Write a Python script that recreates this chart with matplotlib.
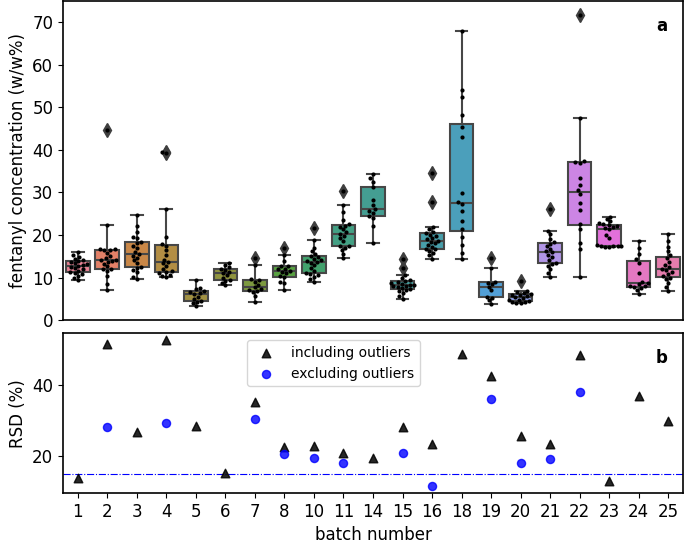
import numpy as np
import pandas as pd
import matplotlib
matplotlib.use("Agg")
import matplotlib.pyplot as plt
import seaborn as sns

# batch labels
batches = ["1", "2", "3", "4", "5", "6", "7", "8", "10", "11", "14",
           "15", "16", "18", "19", "20", "21", "22", "23", "24", "25"]

# fentanyl concentration (w/w%) of each sample, per batch
b1 = [9.4, 9.9, 10.4, 10.8, 11.1, 11.3, 11.6, 11.9, 12.2, 12.5, 12.8, 12.9, 13.1, 13.3, 13.6, 13.8, 14.1, 14.4, 14.8, 15.3, 15.9]
b2 = [7.0, 8.4, 10.4, 11.6, 12.0, 12.1, 12.6, 13.2, 13.6, 13.8, 14.0, 14.2, 14.5, 15.0, 15.8, 16.4, 16.5, 16.6, 16.8, 22.3, 44.8]
b3 = [9.6, 10.2, 11.2, 11.8, 12.3, 12.5, 13.3, 14.0, 14.6, 15.1, 15.5, 16.0, 16.9, 17.5, 18.0, 18.4, 19.2, 19.6, 20.6, 22.1, 24.6]
b4 = [10.2, 10.4, 10.6, 11.0, 11.3, 11.5, 12.0, 12.8, 13.3, 13.7, 14.2, 15.2, 16.5, 17.5, 17.9, 19.6, 26.0, 39.2, 39.6]
b5 = [3.3, 4.0, 4.3, 4.5, 5.0, 5.5, 6.1, 6.3, 6.5, 6.8, 7.2, 7.6, 9.4]
b6 = [8.2, 8.7, 9.2, 9.5, 10.0, 10.5, 11.0, 11.3, 11.8, 12.1, 12.4, 12.9, 13.4]
b7 = [4.3, 5.6, 6.5, 6.8, 7.0, 7.4, 7.7, 8.3, 9.0, 9.4, 9.6, 12.9, 14.5]
b8 = [7.1, 8.6, 9.0, 10.1, 10.3, 11.0, 11.4, 11.6, 11.9, 12.1, 12.6, 12.8, 13.8, 15.3, 16.9]
b10 = [9.0, 9.6, 10.2, 10.5, 10.8, 11.0, 11.6, 12.3, 12.9, 13.4, 13.7, 13.9, 14.1, 14.4, 14.8, 15.1, 15.5, 16.2, 17.0, 18.8, 21.6]
b11 = [14.5, 15.5, 16.4, 17.0, 17.3, 17.5, 18.5, 19.2, 19.8, 20.2, 20.6, 21.3, 21.9, 22.2, 22.6, 23.5, 25.5, 27.1, 30.4]
b14 = [18.1, 22.0, 24.0, 24.5, 25.2, 25.6, 26.1, 27.0, 28.2, 31.4, 32.5, 33.3, 34.3]
b15 = [4.9, 5.6, 6.3, 6.8, 7.0, 7.2, 7.5, 7.8, 8.0, 8.1, 8.2, 8.3, 8.5, 8.7, 8.9, 9.1, 9.3, 9.8, 10.5, 12.3, 14.4]
b16 = [14.4, 15.2, 15.8, 16.2, 16.6, 16.8, 17.2, 17.6, 18.0, 18.4, 18.7, 19.0, 19.3, 19.7, 20.1, 20.4, 20.8, 21.3, 21.9, 27.8, 34.5]
b18 = [14.4, 15.7, 17.6, 19.6, 21.4, 23.2, 25.7, 27.3, 27.8, 29.8, 43.0, 45.3, 48.1, 52.4, 54.2, 68.0]
b19 = [3.8, 4.6, 5.1, 5.5, 7.0, 7.8, 8.4, 8.8, 9.0, 12.2, 14.7]
b20 = [3.9, 4.0, 4.2, 4.3, 4.4, 4.6, 4.8, 5.1, 5.4, 5.6, 5.8, 5.9, 6.1, 6.3, 6.5, 6.8, 9.2]
b21 = [10.2, 11.0, 12.0, 12.8, 13.2, 13.4, 14.0, 14.8, 15.4, 15.9, 16.3, 16.8, 17.4, 17.9, 18.3, 19.0, 20.2, 21.0, 26.1]
b22 = [10.2, 16.6, 18.2, 21.5, 22.6, 25.9, 27.5, 29.7, 30.6, 31.7, 33.4, 37.0, 37.2, 37.4, 47.6, 71.7]
b23 = [17.1, 17.2, 17.3, 17.3, 17.4, 17.4, 17.6, 19.4, 20.1, 21.3, 21.6, 21.9, 22.2, 22.3, 22.5, 22.8, 23.2, 23.7, 24.3]
b24 = [6.1, 7.0, 7.5, 7.7, 7.9, 8.1, 8.4, 8.6, 8.9, 11.1, 13.5, 14.3, 15.5, 17.0, 18.6]
b25 = [6.9, 7.8, 8.8, 9.6, 10.0, 10.4, 10.9, 11.3, 11.8, 12.1, 12.5, 13.0, 13.6, 14.5, 15.3, 16.2, 17.2, 18.6, 20.3]

samples = [b1, b2, b3, b4, b5, b6, b7, b8, b10, b11, b14,
           b15, b16, b18, b19, b20, b21, b22, b23, b24, b25]

# relative standard deviation (%) per batch
rsd_incl = [13.7, 51.5, 26.6, 52.5, 28.4, 15.1, 35.2, 22.6, 22.9, 20.9, 19.4,
            28.0, 23.4, 48.7, 42.4, 25.6, 23.2, 48.3, 12.8, 36.7, 29.7]
# only batches that had outliers
excl_batches = ["2", "4", "7", "8", "10", "11", "15", "16", "19", "20", "21", "22"]
rsd_excl = [28.0, 29.2, 30.4, 20.5, 19.3, 18.0, 20.7, 11.5, 36.0, 17.9, 19.2, 38.1]

rows = []
for name, vals in zip(batches, samples):
    for v in vals:
        rows.append((name, v))
df = pd.DataFrame(rows, columns=["batch", "conc"])

plt.rcParams['font.family'] = ['DejaVu Sans']
fig = plt.figure(figsize=(6.85, 5.48), dpi=100)
ax1 = fig.add_axes([0.092, 0.416, 0.905, 0.582])
ax2 = fig.add_axes([0.092, 0.100, 0.905, 0.292])

sns.boxplot(data=df, x="batch", y="conc", hue="batch", order=batches,
            hue_order=batches, palette="husl", legend=False, saturation=0.75,
            linewidth=1.5, width=0.8, linecolor="#474747",
            flierprops=dict(marker="d", markersize=7, markerfacecolor="#3f3f3f",
                            markeredgecolor="#3f3f3f"),
            ax=ax1)
sns.swarmplot(data=df, x="batch", y="conc", order=batches, color="black",
              size=3, ax=ax1)

ax1.set_ylim(0, 75)
ax1.set_xlim(-0.5, len(batches) - 0.5)
ax1.set_xlabel("")
ax1.set_ylabel("fentanyl concentration (w/w%)", fontsize=12)
ax1.set_xticks([])
ax1.tick_params(axis="y", labelsize=12)
ax1.text(0.975, 0.95, "a", transform=ax1.transAxes, ha="right", va="top",
         fontsize=12, fontweight="bold")

# bottom panel
xpos = np.arange(len(batches))
excl_pos = [batches.index(b) for b in excl_batches]
ax2.scatter(xpos, rsd_incl, marker="^", color="black", s=38, alpha=0.85,
            label="including outliers", zorder=3)
ax2.scatter(excl_pos, rsd_excl, marker="o", color="blue", s=34, alpha=0.8,
            label="excluding outliers", zorder=3)
ax2.axhline(15, color="blue", lw=0.8, ls="-.")
ax2.set_xlim(-0.5, len(batches) - 0.5)
ax2.set_ylim(9.5, 54.5)
ax2.set_yticks([20, 40])
ax2.set_xticks(xpos)
ax2.set_xticklabels(batches)
ax2.tick_params(labelsize=12)
ax2.set_xlabel("batch number", fontsize=12)
ax2.set_ylabel("RSD (%)", fontsize=12)
ax2.legend(loc="upper center", bbox_to_anchor=(0.436, 1.0), fontsize=10)
ax2.text(0.975, 0.9, "b", transform=ax2.transAxes, ha="right", va="top",
         fontsize=12, fontweight="bold")

for ax in (ax1, ax2):
    for sp in ax.spines.values():
        sp.set_linewidth(1.2)

fig.savefig("out.png", dpi=100)
